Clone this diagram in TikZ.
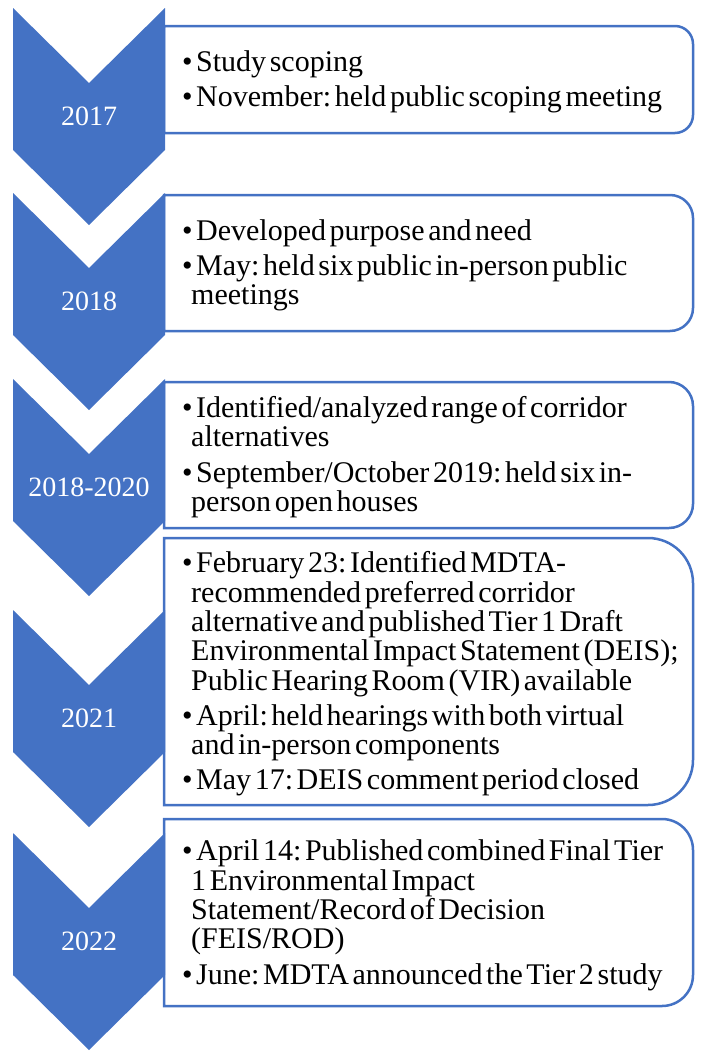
\documentclass[tikz,border=0pt]{standalone}
\usepackage{fontspec}
\setmainfont{Liberation Serif}
\definecolor{stageblue}{HTML}{4472C4}
\newcommand\notefont{\fontsize{30}{29.3}\selectfont\frenchspacing}
\newcommand\yearfont{\fontsize{28}{30}\selectfont}
\newcommand\stageitem[1]{\par\noindent\hangindent=9pt\hangafter=1\spaceskip=3.6pt plus 1pt minus 0.5pt\makebox[14pt][l]{\textbullet}#1\par}

\begin{document}
\begin{tikzpicture}[x=1pt,y=1pt,
  chevron/.style={fill=stageblue},
  notebox/.style={draw=stageblue,line width=2.5pt,fill=white},
  year/.style={text=white,font=\yearfont},
  notes/.style={anchor=west,inner sep=0pt,text width=510pt,align=left,font=\notefont\setlength\parskip{6pt}}]
\useasboundingbox (0,0) rectangle (701,-1052);

\foreach \ya/\yb/\rr in {26/133/18,195/331/23,382/528/24,538/805/45,819/1006/31}
  \draw[notebox] (164,-\ya) -- ({693-\rr},-\ya) arc[start angle=90,end angle=0,radius=\rr*1pt]
    -- (693,{-\yb+\rr}) arc[start angle=0,end angle=-90,radius=\rr*1pt] -- (164,-\yb) -- cycle;

\foreach \c in {8,193,379,610,833}
  \fill[chevron] (13,-\c) -- (89,{-\c-75}) -- (165,-\c) -- (165,{-\c-142})
    -- (89,{-\c-217}) -- (13,{-\c-142}) -- cycle;

\node[year] (y2017) at (89,-116) {2017};
\node[year] (y2018) at (89,-301) {2018};
\node[year] (y2020) at (89,-487) {2018-2020};
\node[year] (y2021) at (89,-718) {2021};
\node[year] (y2022) at (89,-941) {2022};

\node[notes] (n2017) at (182,-74.5) {\stageitem{Study scoping}
  \stageitem{November: held public scoping meeting}};
\node[notes] (n2018) at (182,-258) {\stageitem{Developed purpose and need}
  \stageitem{May: held six public in-person public\newline meetings}};
\node[notes] (n2020) at (182,-450) {\stageitem{Identified/analyzed range of corridor\newline alternatives}
  \stageitem{September/October 2019: held six in-\newline person open houses}};
\node[notes] (n2021) at (182,-667) {\stageitem{February 23: Identified MDTA-\newline recommended preferred corridor\newline alternative and published Tier 1 Draft\newline Environmental Impact Statement (DEIS);\newline Public Hearing Room (VIR) available}
  \stageitem{April: held hearings with both virtual\newline and in-person components}
  \stageitem{May 17: DEIS comment period closed}};
\node[notes] (n2022) at (182,-908) {\stageitem{April 14: Published combined Final Tier\newline 1 Environmental Impact\newline Statement/Record of Decision\newline (FEIS/ROD)}
  \stageitem{June: MDTA announced the Tier 2 study}};
\end{tikzpicture}
\end{document}
